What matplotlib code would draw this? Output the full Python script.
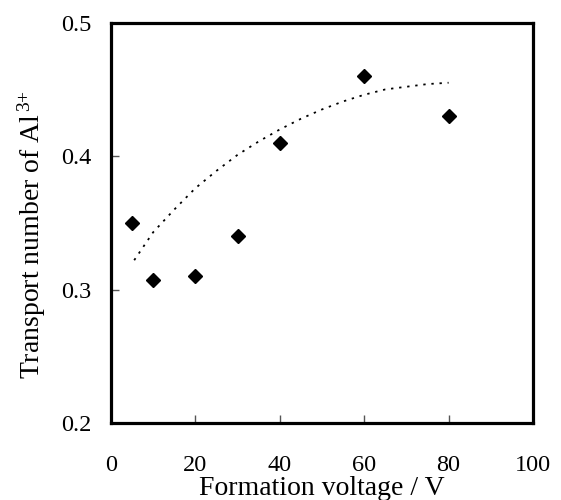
import matplotlib
matplotlib.use("Agg")
import matplotlib.pyplot as plt

# Data
voltage = [5, 10, 20, 30, 40, 60, 80]
transport = [0.350, 0.307, 0.310, 0.340, 0.410, 0.460, 0.430]

# Dotted trend line
trend_x = [5.5, 10, 15, 20, 25, 30, 35, 40, 45, 50, 55, 60, 65, 70, 75, 80]
trend_y = [0.322, 0.343, 0.360, 0.376, 0.389, 0.401, 0.411, 0.420, 0.428,
           0.435, 0.441, 0.446, 0.450, 0.452, 0.454, 0.455]

x_ticks = [0, 20, 40, 60, 80, 100]
y_ticks = [0.2, 0.3, 0.4, 0.5]
y_tick_labels = ["0.2", "0.3", "0.4", "0.5"]

plt.rcParams['font.family'] = ['Liberation Serif', 'DejaVu Serif']
plt.rcParams['mathtext.fontset'] = 'custom'
plt.rcParams['mathtext.rm'] = 'Liberation Serif'
plt.rcParams['mathtext.it'] = 'Liberation Serif'

fig = plt.figure(figsize=(5.61, 5.00), dpi=100)
ax = fig.add_axes([111/561, 1-423/500, (533-111)/561, (423-22.7)/500])

ax.plot(trend_x, trend_y, color='black', lw=1.3, linestyle=(0, (1.3, 3.2)))
ax.plot(voltage, transport, linestyle='none', marker='D', markersize=7.1,
        color='black')

ax.set_xlim(0, 100)
ax.set_ylim(0.2, 0.5)
ax.set_xticks(x_ticks)
ax.set_yticks(y_ticks)
ax.set_yticklabels(y_tick_labels)

for s in ax.spines.values():
    s.set_linewidth(2.3)
    s.set_color('black')

ax.tick_params(axis='both', direction='in', length=6, width=1.0,
               color='#555555', labelsize=17.5, labelcolor='black')
ax.tick_params(axis='x', pad=23)
ax.tick_params(axis='y', pad=14)

ax.set_xlabel("Formation voltage / V", fontsize=20, labelpad=0)
ax.set_ylabel(r"Transport number of Al$^{\,3{+}}$", fontsize=20)
ax.yaxis.set_label_coords(-0.15, 0.47)

fig.savefig("out.png", dpi=100)
